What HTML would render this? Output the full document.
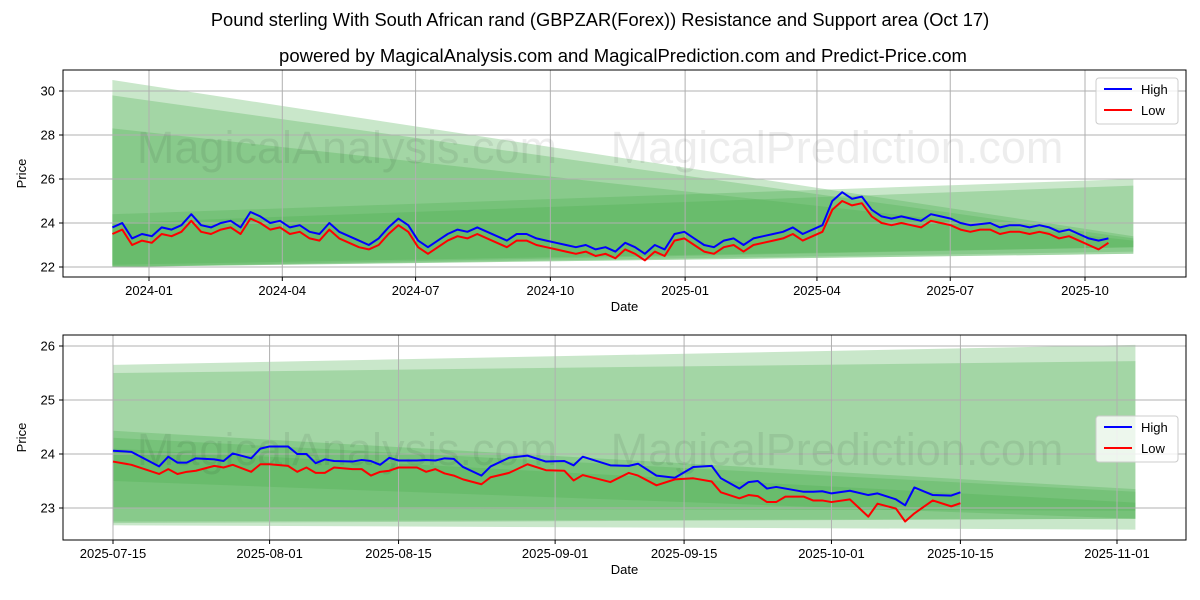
<!DOCTYPE html>
<html><head><meta charset="utf-8"><style>
body{margin:0;background:#fff;}
svg{display:block;font-family:"Liberation Sans","DejaVu Sans",sans-serif;}
</style></head><body>
<svg id="c" width="1200" height="600">
<rect width="1200" height="600" fill="#fff"/>
<text x="600" y="26" text-anchor="middle" font-size="18.3">Pound sterling With South African rand (GBPZAR(Forex)) Resistance and Support area (Oct 17)</text>
<text x="623" y="62" text-anchor="middle" font-size="18.5">powered by MagicalAnalysis.com and MagicalPrediction.com and Predict-Price.com</text>
</svg>
<script>
// ---- top chart data ----
const topStart = "2023-12-07", topEnd = "2025-10-17";
const topHigh = [23.8,24.0,23.3,23.5,23.4, 23.8,23.7,23.9,24.4,23.9, 23.8,24.0,24.1,23.8, 24.5,24.3,24.0,24.1,23.8,
 23.9,23.6,23.5,24.0,23.6, 23.4,23.2,23.0,23.3,23.8, 24.2,23.9,23.2,22.9, 23.2,23.5,23.7,23.6,23.8,
 23.6,23.4,23.2,23.5, 23.5,23.3,23.2,23.1, 23.0,22.9,23.0,22.8,22.9, 22.7,23.1,22.9,22.6,
 23.0,22.8,23.5,23.6,23.3, 23.0,22.9,23.2,23.3, 23.0,23.3,23.4,23.5, 23.6,23.8,23.5,23.7,23.9,
 25.0,25.4,25.1,25.2,24.6, 24.3,24.2,24.3,24.2, 24.1,24.4,24.3,24.2, 24.0,23.9,23.95,24.0,23.8,
 23.9,23.9,23.8,23.9, 23.8,23.6,23.7,23.5, 23.3,23.2,23.3];
const topLow = [23.5,23.7,23.0,23.2,23.1, 23.5,23.4,23.6,24.1,23.6, 23.5,23.7,23.8,23.5, 24.2,24.0,23.7,23.8,23.5,
 23.6,23.3,23.2,23.7,23.3, 23.1,22.9,22.8,23.0,23.5, 23.9,23.6,22.9,22.6, 22.9,23.2,23.4,23.3,23.5,
 23.3,23.1,22.9,23.2, 23.2,23.0,22.9,22.8, 22.7,22.6,22.7,22.5,22.6, 22.4,22.8,22.6,22.3,
 22.7,22.5,23.2,23.3,23.0, 22.7,22.6,22.9,23.0, 22.7,23.0,23.1,23.2, 23.3,23.5,23.2,23.4,23.6,
 24.6,25.0,24.8,24.9,24.3, 24.0,23.9,24.0,23.9, 23.8,24.1,24.0,23.9, 23.7,23.6,23.7,23.7,23.5,
 23.6,23.6,23.5,23.6, 23.5,23.3,23.4,23.2, 23.0,22.8,23.1];
const topYTicks = [22,24,26,28,30];
const topXTicks = ["2024-01","2024-04","2024-07","2024-10","2025-01","2025-04","2025-07","2025-10"];
// bands: start top, start bottom, end top, end bottom
const topBandStartTop = [30.5,29.8,28.3,24.4,24.0];
const topBandStartBot = [22.0,22.0,22.0,22.0,22.1];
const topBandEndTop   = [23.4,23.3,23.2,26.0,25.7];
const topBandEndBot   = [22.6,22.7,22.9,22.6,22.9];
const bandStartDate = "2023-12-07", bandEndDate = "2025-11-03";

// ---- bottom chart data ----
const botStart = "2025-07-15";
const botDays = [0,2,5,6,7,8,9,11,12,13,15,16,17,19,20,21,22,23,24,26,27,28,29,30,31,33,34,35,36,37,38,40,41,43,45,47,49,50,51,54,56,57,59,61,63,65,66,68,69,70,71,72,73,75,76,77,78,80,82,83,85,86,87,89,91,92];
const botHigh = [24.06,24.04,23.77,23.95,23.84,23.84,23.92,23.9,23.87,24.01,23.92,24.1,24.14,24.14,24.0,24.0,23.83,23.9,23.87,23.86,23.89,23.87,23.8,23.93,23.88,23.88,23.89,23.88,23.92,23.91,23.76,23.6,23.77,23.93,23.97,23.86,23.87,23.79,23.95,23.79,23.78,23.82,23.6,23.56,23.76,23.78,23.55,23.36,23.48,23.5,23.36,23.39,23.36,23.3,23.3,23.31,23.27,23.32,23.24,23.27,23.16,23.05,23.38,23.24,23.23,23.29];
const botLow = [23.86,23.8,23.63,23.72,23.63,23.67,23.69,23.78,23.75,23.8,23.67,23.81,23.81,23.78,23.67,23.75,23.65,23.65,23.75,23.72,23.72,23.6,23.67,23.69,23.75,23.75,23.67,23.72,23.64,23.6,23.53,23.44,23.57,23.65,23.81,23.7,23.69,23.51,23.61,23.48,23.65,23.6,23.42,23.53,23.55,23.49,23.29,23.18,23.24,23.22,23.11,23.11,23.21,23.21,23.14,23.14,23.11,23.16,22.84,23.08,22.99,22.75,22.9,23.14,23.03,23.09];
const botYTicks = [23,24,25,26];
const botXTicks = ["2025-07-15","2025-08-01","2025-08-15","2025-09-01","2025-09-15","2025-10-01","2025-10-15","2025-11-01"];
const botBandStartTop = [25.65,25.5,24.43,24.3,24.1];
const botBandStartBot = [22.68,22.72,23.5,22.75,23.0];
const botBandEndTop   = [26.02,25.72,23.35,23.3,23.1];
const botBandEndBot   = [22.6,22.8,22.8,22.8,22.95];
const botBandStart = "2025-07-15", botBandEnd = "2025-11-03";

const svg = document.getElementById('c');
const NS = "http://www.w3.org/2000/svg";
function mk(tag, attrs, parent){const e=document.createElementNS(NS,tag);for(const k in attrs)e.setAttribute(k,attrs[k]);(parent||svg).appendChild(e);return e;}
const DAY=86400000;
function d(s){return Date.parse(s.length===7?s+"-01":s)/DAY;}

function drawChart(o){
  const g = mk('g',{});
  
  
  const X = v => o.x0 + (v - o.d0)*(o.x1-o.x0)/(o.d1-o.d0);
  const Y = v => o.y0 + (v - o.v0)*(o.y1-o.y0)/(o.v1-o.v0);
  const clip = mk('clipPath',{id:o.name+'-clip'},g);
  mk('rect',{x:o.L,y:o.T,width:o.R-o.L,height:o.B-o.T},clip);
  const pg = mk('g',{'clip-path':'url(#'+o.name+'-clip)'},g);
  const bs=d(o.bandStart), be=d(o.bandEnd);
  for(let i=0;i<o.bst.length;i++){
    const p = mk('polygon',{points:`${X(bs)},${Y(o.bst[i])} ${X(be)},${Y(o.bet[i])} ${X(be)},${Y(o.beb[i])} ${X(bs)},${Y(o.bsb[i])}`,fill:'#4caf50','fill-opacity':0.3},pg);
    
    
  }
  o.yt.forEach(v=>{mk('line',{x1:o.L,x2:o.R,y1:Y(v),y2:Y(v),stroke:'#b0b0b0','stroke-width':1},pg);});
  o.xt.forEach(s=>{mk('line',{x1:X(d(s)),x2:X(d(s)),y1:o.T,y2:o.B,stroke:'#b0b0b0','stroke-width':1},pg);});
  [[o.wm1y,'MagicalAnalysis.com',347],[o.wm1y,'MagicalPrediction.com',837],[o.wm2y,'MagicalAnalysis.com',347],[o.wm2y,'MagicalPrediction.com',837]].forEach(w=>{
    const t=mk('text',{x:w[2],y:w[0],'text-anchor':'middle','font-size':45,fill:'#000','fill-opacity':0.07},pg);t.textContent=w[1];
    
    
  });
  [[o.high,'#0000ff','high-line'],[o.low,'#ff0000','low-line']].forEach(s=>{
    const pts=s[0].map((v,i)=>X(o.dates[i])+','+Y(v)).join(' ');
    const l=mk('polyline',{points:pts,fill:'none',stroke:s[1],'stroke-width':2,'stroke-linejoin':'round'},pg);
    
    
  });
  mk('rect',{x:o.L,y:o.T,width:o.R-o.L,height:o.B-o.T,fill:'none',stroke:'#000','stroke-width':1},g);
  o.yt.forEach(v=>{
    mk('line',{x1:o.L-4,x2:o.L,y1:Y(v),y2:Y(v),stroke:'#000'},g);
    const t=mk('text',{x:o.L-8,y:Y(v)+4.5,'text-anchor':'end','font-size':13},g);t.textContent=v;
    
    
  });
  o.xt.forEach(s=>{
    mk('line',{x1:X(d(s)),x2:X(d(s)),y1:o.B,y2:o.B+4,stroke:'#000'},g);
    const t=mk('text',{x:X(d(s)),y:o.B+18,'text-anchor':'middle','font-size':13},g);t.textContent=s;
    
    
  });
  const xl=mk('text',{x:(o.L+o.R)/2,y:o.B+34,'text-anchor':'middle','font-size':13},g);xl.textContent='Date';
  
  
  const yl=mk('text',{x:0,y:0,'text-anchor':'middle','font-size':13,transform:`translate(26,${(o.T+o.B)/2}) rotate(-90)`},g);yl.textContent='Price';
  
  
  const lg=mk('g',{},g);
  
  
  mk('rect',{x:1096,y:o.legY,width:82,height:46,rx:3,fill:'#fff','fill-opacity':0.8,stroke:'#ccc'},lg);
  [['High','#0000ff',14],['Low','#ff0000',35]].forEach(e=>{
    mk('line',{x1:1104,x2:1132,y1:o.legY+e[2]-3,y2:o.legY+e[2]-3,stroke:e[1],'stroke-width':2},lg);
    const t=mk('text',{x:1141,y:o.legY+e[2]+2,'font-size':13},lg);t.textContent=e[0];
    
    
  });
}
const tS=d(topStart), tE=d(topEnd);
const topDates=topHigh.map((v,i)=>tS+i*(tE-tS)/(topHigh.length-1));
drawChart({name:'top-chart',L:63,R:1186,T:70,B:277,x0:149,x1:1085,d0:d("2024-01"),d1:d("2025-10"),y0:267,y1:91,v0:22,v1:30,
  yt:topYTicks,xt:topXTicks,dates:topDates,high:topHigh,low:topLow,bst:topBandStartTop,bsb:topBandStartBot,bet:topBandEndTop,beb:topBandEndBot,
  bandStart:bandStartDate,bandEnd:bandEndDate,wm1y:163,wm2y:313,legY:78});
const bS=d(botStart);
drawChart({name:'bottom-chart',L:63,R:1186,T:335,B:540,x0:113,x1:1117,d0:d("2025-07-15"),d1:d("2025-11-01"),y0:508,y1:346,v0:23,v1:26,
  yt:botYTicks,xt:botXTicks,dates:botDays.map(v=>bS+v),high:botHigh,low:botLow,bst:botBandStartTop,bsb:botBandStartBot,bet:botBandEndTop,beb:botBandEndBot,
  bandStart:botBandStart,bandEnd:botBandEnd,wm1y:465,wm2y:163,legY:416});
</script>
</body></html>
